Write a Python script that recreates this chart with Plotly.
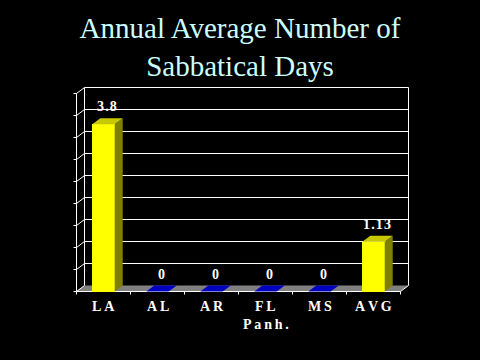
import plotly.graph_objects as go

# ---------------- data ----------------
categories = ["LA", "AL", "AR", "FL", "MS", "AVG"]
sublabels = ["", "", "", "Panh.", "", ""]
values = [3.8, 0, 0, 0, 0, 1.13]
value_labels = ["3.8", "0", "0", "0", "0", "1.13"]
y_grid = [0, 0.5, 1.0, 1.5, 2.0, 2.5, 3.0, 3.5, 4.0, 4.5]
title_lines = ["Annual Average Number of", "Sabbatical Days"]

# ---------------- geometry / style ----------------
W, H = 480, 360
PX_X = 54.0              # pixels per category
PX_Y = 44.0              # pixels per value unit
X0_PX, Y0_PX = 76.5, 291.5   # pixel position of front-left floor corner
L, R, T, B = 63, 62, 80, 64
DX = 8.0 / PX_X          # 3D depth offset (data units)
DY = 6.0 / PX_Y
BAR_W = 0.415
TICK_X = 3 / PX_X
TICK_Y = 3 / PX_Y

YELLOW = "#ffff00"
TOP_YELLOW = "#c8c800"
SIDE_YELLOW = "#808000"
ZERO_BLUE = "#0000c0"
FLOOR = "#808080"
GRID = "#ffffff"
FONT = "Liberation Serif"

n = len(categories)
xs = list(range(n))
left_edge = -0.5
right_edge = n - 0.5
ymax = y_grid[-1]

x_range = [left_edge - (X0_PX - L) / PX_X,
           right_edge + (W - R - (X0_PX + n * PX_X)) / PX_X]
y_range = [-(H - B - Y0_PX) / PX_Y, (Y0_PX - T) / PX_Y]

fig = go.Figure()

# ---------------- walls, floor, grid (shapes below traces) ----------------
shapes = []
shapes.append(dict(type="path", xref="x", yref="y", layer="below",
                   path=f"M {left_edge},0 L {right_edge},0 L {right_edge+DX},{DY} "
                        f"L {left_edge+DX},{DY} Z",
                   fillcolor=FLOOR, line=dict(width=0)))


def seg(x0, y0, x1, y1):
    return dict(type="line", xref="x", yref="y", layer="below",
                x0=x0, y0=y0, x1=x1, y1=y1, line=dict(color=GRID, width=1))


for v in y_grid[1:]:
    shapes.append(seg(left_edge + DX, v + DY, right_edge + DX, v + DY))
for v in y_grid:
    shapes.append(seg(left_edge, v, left_edge + DX, v + DY))
    shapes.append(seg(left_edge - TICK_X, v, left_edge, v))
shapes.append(seg(left_edge, 0, left_edge, ymax))
shapes.append(seg(left_edge + DX, DY, left_edge + DX, ymax + DY))
shapes.append(seg(right_edge + DX, DY, right_edge + DX, ymax + DY))
shapes.append(seg(left_edge, 0, right_edge, 0))
shapes.append(seg(right_edge, 0, right_edge + DX, DY))
for k in range(n + 1):
    b = left_edge + k
    shapes.append(seg(b, 0, b, -TICK_Y))

# ---------------- bars ----------------
fig.add_trace(go.Bar(x=xs, y=values, width=BAR_W,
                     marker=dict(color=YELLOW, line=dict(width=0)),
                     hoverinfo="skip"))

side_x, side_y, top_x, top_y, zx, zy = [], [], [], [], [], []
for i, v in zip(xs, values):
    x0 = i - BAR_W / 2
    x1 = i + BAR_W / 2
    if v > 0:
        side_x += [x1, x1, x1 + DX, x1 + DX, x1, None]
        side_y += [0, v, v + DY, DY, 0, None]
        top_x += [x0, x1, x1 + DX, x0 + DX, x0, None]
        top_y += [v, v, v + DY, v + DY, v, None]
    else:
        zx += [x0, x1, x1 + DX, x0 + DX, x0, None]
        zy += [v, v, v + DY, v + DY, v, None]

fig.add_trace(go.Scatter(x=side_x, y=side_y, mode="lines", fill="toself",
                         fillcolor=SIDE_YELLOW, line=dict(width=0, color=SIDE_YELLOW),
                         hoverinfo="skip"))
fig.add_trace(go.Scatter(x=top_x, y=top_y, mode="lines", fill="toself",
                         fillcolor=TOP_YELLOW, line=dict(width=0, color=TOP_YELLOW),
                         hoverinfo="skip"))
fig.add_trace(go.Scatter(x=zx, y=zy, mode="lines", fill="toself",
                         fillcolor=ZERO_BLUE, line=dict(width=0, color=ZERO_BLUE),
                         hoverinfo="skip"))

# ---------------- annotations ----------------
annotations = []
for i, v, lab in zip(xs, values, value_labels):
    annotations.append(dict(x=i + DX * 0.45, y=v + DY, xref="x", yref="y",
                            text="<b>" + "\u200a".join(lab) + "</b>", showarrow=False,
                            yanchor="bottom", yshift=2,
                            font=dict(family=FONT, size=14, color="white")))
for i, cat, sub in zip(xs, categories, sublabels):
    annotations.append(dict(x=i, y=0, xref="x", yref="y",
                            text="<b>" + "\u2009".join(cat) + "</b>", showarrow=False,
                            yanchor="middle", yshift=-15,
                            font=dict(family=FONT, size=14, color="white")))
    if sub:
        annotations.append(dict(x=i, y=0, xref="x", yref="y",
                                text="<b>" + "\u2009".join(sub) + "</b>", showarrow=False,
                                yanchor="middle", yshift=-33,
                                font=dict(family=FONT, size=14, color="white")))

fig.update_layout(
    width=W, height=H,
    margin=dict(l=L, r=R, t=T, b=B),
    paper_bgcolor="black", plot_bgcolor="black",
    showlegend=False,
    title=dict(text="<br>".join(title_lines), x=0.5, xref="container", xanchor="center",
               y=1 - 38 / H, yref="container", yanchor="top",
               font=dict(family=FONT, size=29, color="#ccffff")),
    xaxis=dict(range=x_range, visible=False, fixedrange=True),
    yaxis=dict(range=y_range, visible=False, fixedrange=True),
    shapes=shapes,
    annotations=annotations,
    bargap=0,
)

fig.write_html("out.html",
               config={"displayModeBar": False, "staticPlot": True},
               post_script="document.body.style.margin='0';"
                           "document.body.style.background='black';")
